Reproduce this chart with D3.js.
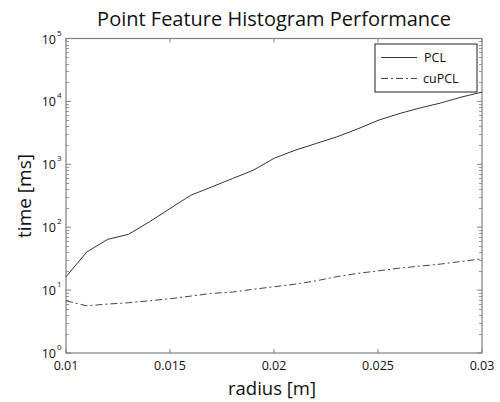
<!DOCTYPE html>
<html><head><meta charset="utf-8">
<script src="https://cdn.jsdelivr.net/npm/d3@7"></script>
<style>body{margin:0;background:#fff;} svg{display:block;}</style>
</head><body>
<script>
const radius = [0.010,0.011,0.012,0.013,0.014,0.015,0.016,0.017,0.018,0.019,0.020,0.021,0.022,0.023,0.024,0.025,0.026,0.027,0.028,0.029,0.030];
const pcl   = [16.3,40.5,64,77,121,198,322,436,593,803,1245,1667,2130,2715,3630,4990,6370,7830,9400,11700,14060];
const cupcl = [6.76,5.63,6.0,6.29,6.76,7.28,8.03,8.86,9.3,10.3,11.3,12.4,14.0,16.3,18.4,20.2,22.3,24.0,25.9,28.5,31.4];
const xTicks = [0.01,0.015,0.02,0.025,0.03];
const xTickLabels = ["0.01","0.015","0.02","0.025","0.03"];
const yExps = [0,1,2,3,4,5];
const seriesNames = ["PCL","cuPCL"];

const W=500,H=402, L=66,R=482,T=38.5,B=353;
const font="'Open Sans', sans-serif";
const svg=d3.select("body").append("svg").attr("width",W).attr("height",H);
const x=d3.scaleLinear().domain([0.01,0.03]).range([L,R]);
const y=d3.scaleLog().domain([1,1e5]).range([B,T]);
const axisCol="#808080";

const minor=[];
for(let e=0;e<5;e++) for(let m=2;m<=9;m++) minor.push(m*Math.pow(10,e));
const g=svg.append("g");
yExps.forEach(e=>{
  const v=Math.pow(10,e), yy=y(v);
  g.append("line").attr("x1",L).attr("x2",L+5).attr("y1",yy).attr("y2",yy).attr("stroke",axisCol);
  g.append("line").attr("x1",R).attr("x2",R-5).attr("y1",yy).attr("y2",yy).attr("stroke",axisCol);
});
minor.forEach(v=>{
  const yy=Math.round(y(v))+0.5;
  g.append("line").attr("x1",L).attr("x2",L+3).attr("y1",yy).attr("y2",yy).attr("stroke",axisCol).attr("stroke-width",0.8);
  g.append("line").attr("x1",R).attr("x2",R-3).attr("y1",yy).attr("y2",yy).attr("stroke",axisCol).attr("stroke-width",0.8);
});
xTicks.forEach(v=>{
  const xx=x(v);
  g.append("line").attr("x1",xx).attr("x2",xx).attr("y1",B).attr("y2",B-4).attr("stroke",axisCol);
  g.append("line").attr("x1",xx).attr("x2",xx).attr("y1",T).attr("y2",T+4).attr("stroke",axisCol);
});
svg.append("rect").attr("x",L).attr("y",T).attr("width",R-L).attr("height",B-T)
  .attr("fill","none").attr("stroke",axisCol).attr("stroke-width",1.2);

xTicks.forEach((v,i)=>{
  svg.append("text").attr("x",x(v)).attr("y",370).attr("text-anchor","middle")
    .attr("font-family",font).attr("font-size",12.5).attr("fill","#111").text(xTickLabels[i]);
});
yExps.forEach(e=>{
  svg.append("text").attr("x",56).attr("y",y(Math.pow(10,e))+5).attr("text-anchor","end")
    .attr("font-family",font).attr("font-size",12.5).attr("fill","#111").text("10");
  svg.append("text").attr("x",57).attr("y",y(Math.pow(10,e))-3).attr("font-family",font)
    .attr("font-size",8).attr("fill","#111").text(String(e));
});

const line=d3.line().x((d,i)=>x(radius[i])).y(d=>y(d));
svg.append("path").datum(pcl).attr("d",line).attr("fill","none").attr("stroke","#333").attr("stroke-width",1);
svg.append("path").datum(cupcl).attr("d",line).attr("fill","none").attr("stroke","#444").attr("stroke-width",1)
  .attr("stroke-dasharray","7,3,2,3");

svg.append("rect").attr("x",375).attr("y",44).attr("width",102).attr("height",48)
  .attr("fill","#fff").attr("stroke","#222").attr("stroke-width",1);
svg.append("line").attr("x1",381).attr("x2",417).attr("y1",57.5).attr("y2",57.5).attr("stroke","#333");
svg.append("line").attr("x1",381).attr("x2",417).attr("y1",78.5).attr("y2",78.5).attr("stroke","#444").attr("stroke-dasharray","7,3,2,3");
svg.append("text").attr("x",424).attr("y",62).attr("font-family",font).attr("font-size",12.5).attr("fill","#111").text(seriesNames[0]);
svg.append("text").attr("x",423).attr("y",83).attr("font-family",font).attr("font-size",12.5).attr("fill","#111").text(seriesNames[1]);

svg.append("text").attr("x",274).attr("y",26).attr("text-anchor","middle").attr("font-family",font)
  .attr("font-size",20).attr("fill","#111").text("Point Feature Histogram Performance");
svg.append("text").attr("x",272).attr("y",395).attr("text-anchor","middle").attr("font-family",font)
  .attr("font-size",18.5).attr("fill","#111").text("radius [m]");
svg.append("text").attr("transform","translate(31,196) rotate(-90)").attr("text-anchor","middle").attr("font-family",font)
  .attr("font-size",19).attr("fill","#111").text("time [ms]");
</script>
</body></html>
